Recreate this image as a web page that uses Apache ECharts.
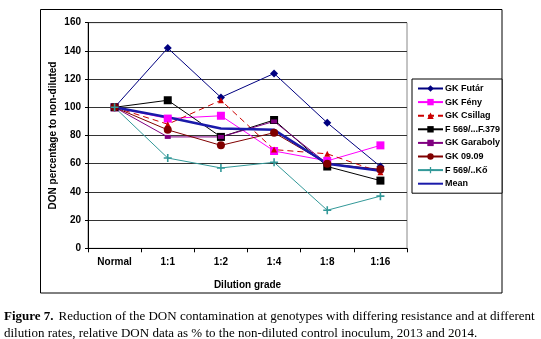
<!DOCTYPE html>
<html><head><meta charset="utf-8">
<script src="https://cdn.jsdelivr.net/npm/echarts@6/dist/echarts.min.js"></script>
<style>html,body{margin:0;padding:0;background:#fff}#c{width:541px;height:339px}</style>
</head><body><div id="c"></div>
<script>
const categories = ['Normal','1:1','1:2','1:4','1:8','1:16'];
const futar    = [100,142,107,124,89,58];
const feny     = [100,92,94,69,62,73];
const csillag  = [100,88,105,70,67,54];
const f379     = [100,105,79,91,58,48];
const garaboly = [100,79,79,90,60,55];
const gk0909   = [100,84,73,82,60,56];
const ko       = [100,64,57,61,27,37];
const mean     = [100,93,85,84,60,55];
const yTicks = [0,20,40,60,80,100,120,140,160];

const plus = 'path://M4,0 H6 V4 H10 V6 H6 V10 H4 V6 H0 V4 H4 Z';
function s(name, data, color, symbol, size, extra){
  return Object.assign({
    name, type:'line', data, symbol, symbolSize:size,
    itemStyle:{color}, lineStyle:{color, width:1},
    animation:false, emphasis:{disabled:true}
  }, extra||{});
}
const series = [
  s('GK Futár', futar, '#000080', 'diamond', 8),
  s('GK Fény', feny, '#ff00ff', 'rect', 8),
  s('GK Csillag', csillag, '#cc0000', 'triangle', 6, {lineStyle:{color:'#cc0000',width:1,type:[6,4]}}),
  s('F 569/...F.379', f379, '#000000', 'rect', 8),
  s('GK Garaboly', garaboly, '#800080', 'rect', [6,4]),
  s('GK 09.09', gk0909, '#800000', 'circle', 8),
  s('F 569/..Kő', ko, '#339999', plus, 8),
  s('Mean', mean, '#1a1aaa', 'none', 0, {showSymbol:false, lineStyle:{color:'#1a1aaa',width:2.5}})
];
const legendData = series.map(x=>x.name==='Mean'?{name:'Mean', itemStyle:{opacity:0}}:x.name);

const chart = echarts.init(document.getElementById('c'), null, {renderer:'canvas'});
chart.setOption({
  animation:false,
  backgroundColor:'#fff',
  grid:{left:88, right:134, top:22.7, bottom:90.7, show:true, borderColor:'#888', borderWidth:1},
  xAxis:{type:'category', data:categories, boundaryGap:true,
    axisLine:{lineStyle:{color:'#000',width:1}},
    axisTick:{show:true, alignWithLabel:false, length:4, lineStyle:{color:'#000'}},
    axisLabel:{color:'#000', fontFamily:'Liberation Sans, Arial', fontWeight:'bold', fontSize:10, margin:9},
    name:'Dilution grade', nameLocation:'middle', nameGap:32, nameMoveOverlap:false,
    nameTextStyle:{color:'#000', fontFamily:'Liberation Sans, Arial', fontWeight:'bold', fontSize:10}
  },
  yAxis:{type:'value', min:0, max:160, interval:20,
    axisLine:{show:true, lineStyle:{color:'#000',width:1}},
    axisTick:{show:true, length:3, lineStyle:{color:'#000'}},
    splitLine:{show:true, lineStyle:{color:'#333', width:1}},
    axisLabel:{color:'#000', fontFamily:'Liberation Sans, Arial', fontWeight:'bold', fontSize:10, margin:7,
      formatter:v=> yTicks.includes(v)?String(v):''},
    name:'DON percentage to non-diluted', nameLocation:'middle', nameGap:30, nameMoveOverlap:false,
    nameTextStyle:{color:'#000', fontFamily:'Liberation Sans, Arial', fontWeight:'bold', fontSize:10}
  },
  legend:{orient:'vertical', left:412, top:79, width:90,
    padding:[5,2,5,5], itemGap:4.6, itemWidth:25, itemHeight:8,
    borderColor:'#000', borderWidth:1, backgroundColor:'#fff',
    textStyle:{color:'#000', fontFamily:'Liberation Sans, Arial', fontWeight:'bold', fontSize:9, padding:[0,0,0,-3]},
    data:legendData
  },
  title:{left:4, top:308, padding:0,
    text:'{b|Figure 7.} {n|Reduction of the DON contamination at genotypes with differing resistance and at different}\n{n|dilution rates, relative DON data as % to the non-diluted control inoculum, 2013 and 2014.}',
    textStyle:{fontWeight:'normal', rich:{
      b:{fontFamily:'Liberation Serif, serif', fontWeight:'bold', fontSize:13, color:'#000', lineHeight:15},
      n:{fontFamily:'Liberation Serif, serif', fontWeight:'normal', fontSize:13, color:'#000', lineHeight:15}
    }}
  },
  graphic:[{type:'rect', shape:{x:40.5, y:9.5, width:461.5, height:283.5}, style:{fill:'none', stroke:'#000', lineWidth:1}, silent:true, z:-1}],
  series
});
</script></body></html>
